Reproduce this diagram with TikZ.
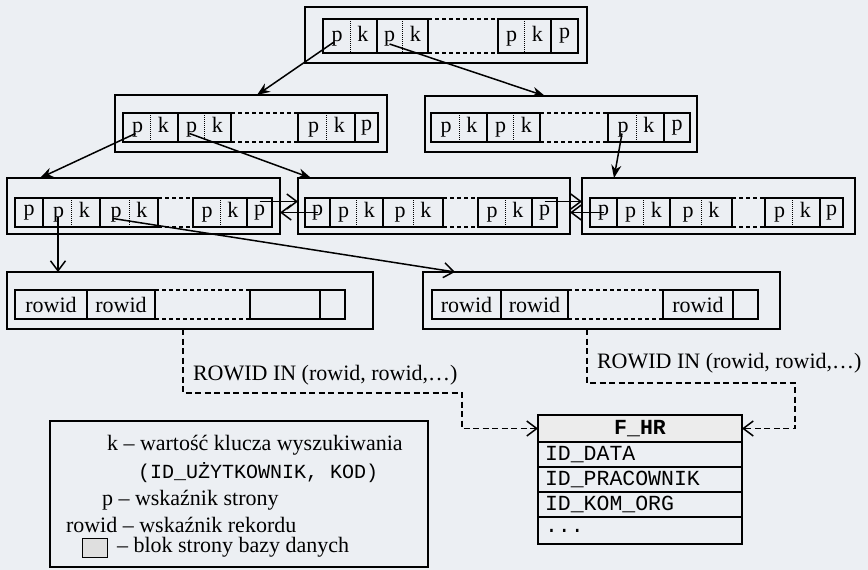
\documentclass[tikz,border=0pt]{standalone}
\usepackage{fontspec}
\setmainfont{Liberation Serif}
\setmonofont{Liberation Mono}
\usetikzlibrary{positioning,arrows.meta}
\definecolor{tlo}{RGB}{236,239,243}

\begin{document}
\begin{tikzpicture}[x=1pt,y=-1pt,>={Stealth[length=13pt,width=10pt]},
  every node/.style={font=\fontsize{22}{25}\selectfont,inner sep=0pt,outer sep=0pt},
  blok/.style={draw,line width=1.5pt},
  pole/.style={draw,line width=1.5pt,minimum height=29pt},
  pk/.style={pole,path picture={\draw[densely dotted,line width=1pt]
      (path picture bounding box.north) -- (path picture bounding box.south);}},
  haczyk/.style={-{Straight Barb[length=10pt,width=15pt]},line width=1.5pt},
  link/.style={haczyk,dash pattern=on 6pt off 3.5pt},
  luka/.style={line width=1.2pt,dash pattern=on 4pt off 3pt},
  wiersz/.style={draw,line width=1.3pt,minimum width=204pt,minimum height=25pt,
      text width=190pt,align=left,font=\fontsize{21.5}{25}\ttfamily}]
  \useasboundingbox (0,0) rectangle (868,570);
  \fill[tlo] (0,0) rectangle (868,570);

  % korzen
  \node[blok,minimum width=282pt,minimum height=56pt] (r) at (446,35) {};
  \node[pk,minimum width=54pt,minimum height=34pt] (r1) at (350,36) {p\hspace{15pt}k};
  \node[pk,minimum width=51pt,minimum height=34pt,right=0pt of r1] (r2) {p\hspace{15pt}k};
  \node[pk,minimum width=53pt,minimum height=34pt,right=70pt of r2] (r3) {p\hspace{15pt}k};
  \node[pole,minimum width=27pt,minimum height=34pt,right=0pt of r3] (r4) {p};
  \draw[luka] (r2.north east) -- (r3.north west) (r2.south east) -- (r3.south west);

  % poziom 2
  \node[blok,minimum width=272pt,minimum height=57pt] (l) at (251,123.5) {};
  \node[pk,minimum width=55pt] (l1) at (150.5,127.5) {p\hspace{15pt}k};
  \node[pk,minimum width=53pt,right=0pt of l1] (l2) {p\hspace{15pt}k};
  \node[pk,minimum width=57pt,right=67pt of l2] (l3) {p\hspace{15pt}k};
  \node[pole,minimum width=23pt,right=0pt of l3] (l4) {p};
  \draw[luka] (l2.north east) -- (l3.north west) (l2.south east) -- (l3.south west);

  \node[blok,minimum width=272pt,minimum height=56pt] (m) at (561,124) {};
  \node[pk,minimum width=56pt] (m1) at (459,127.5) {p\hspace{15pt}k};
  \node[pk,minimum width=53pt,right=0pt of m1] (m2) {p\hspace{15pt}k};
  \node[pk,minimum width=56pt,right=68pt of m2] (m3) {p\hspace{15pt}k};
  \node[pole,minimum width=26pt,right=0pt of m3] (m4) {p};
  \draw[luka] (m2.north east) -- (m3.north west) (m2.south east) -- (m3.south west);

  % poziom 3
  \node[blok,minimum width=273pt,minimum height=56pt] (a) at (143.5,206) {};
  \node[pole,minimum width=28pt] (a1) at (29,212.5) {p};
  \node[pk,minimum width=57pt,right=0pt of a1] (a2) {p\hspace{15pt}k};
  \node[pk,minimum width=58pt,right=0pt of a2] (a3) {p\hspace{15pt}k};
  \node[pk,minimum width=54pt,right=35pt of a3] (a4) {p\hspace{15pt}k};
  \node[pole,minimum width=25pt,right=0pt of a4] (a5) {p};
  \draw[luka] (a3.north east) -- (a4.north west) (a3.south east) -- (a4.south west);

  \node[blok,minimum width=272pt,minimum height=56pt] (b) at (434,206) {};
  \node[pole,minimum width=25pt] (b1) at (317.5,212.5) {p};
  \node[pk,minimum width=53pt,right=0pt of b1] (b2) {p\hspace{15pt}k};
  \node[pk,minimum width=60pt,right=0pt of b2] (b3) {p\hspace{15pt}k};
  \node[pk,minimum width=54pt,right=35pt of b3] (b4) {p\hspace{15pt}k};
  \node[pole,minimum width=25pt,right=0pt of b4] (b5) {p};
  \draw[luka] (b3.north east) -- (b4.north west) (b3.south east) -- (b4.south west);

  \node[blok,minimum width=273pt,minimum height=56pt] (c) at (718.5,206) {};
  \node[pole,minimum width=27pt] (c1) at (603.5,212.5) {p};
  \node[pk,minimum width=53pt,right=0pt of c1] (c2) {p\hspace{15pt}k};
  \node[pk,minimum width=62pt,right=0pt of c2] (c3) {p\hspace{15pt}k};
  \node[pk,minimum width=55pt,right=33pt of c3] (c4) {p\hspace{15pt}k};
  \node[pole,minimum width=23pt,right=0pt of c4] (c5) {p};
  \draw[luka] (c3.north east) -- (c4.north west) (c3.south east) -- (c4.south west);

  % liscie
  \node[blok,minimum width=366pt,minimum height=57pt] (d) at (190,300.5) {};
  \node[pole,minimum width=72pt] (d1) at (51,304.5) {rowid};
  \node[pole,minimum width=68pt,right=0pt of d1] (d2) {rowid};
  \node[pole,minimum width=70pt,right=95pt of d2] (d3) {};
  \node[pole,minimum width=25pt,right=0pt of d3] (d4) {};
  \draw[luka] (d2.north east) -- (d3.north west) (d2.south east) -- (d3.south west);

  \node[blok,minimum width=357pt,minimum height=57pt] (e) at (601.5,300.5) {};
  \node[pole,minimum width=69pt] (e1) at (466.5,304.5) {rowid};
  \node[pole,minimum width=67pt,right=0pt of e1] (e2) {rowid};
  \node[pole,minimum width=70pt,right=95pt of e2] (e3) {rowid};
  \node[pole,minimum width=25pt,right=0pt of e3] (e4) {};
  \draw[luka] (e2.north east) -- (e3.north west) (e2.south east) -- (e3.south west);

  % tabela
  \node[wiersz,minimum height=27pt,fill=gray!15,align=center,font=\fontsize{21.5}{25}\ttfamily\bfseries] (fhr) at (640,428.5) {F\_HR};
  \node[wiersz,below=0pt of fhr] (fhr1) {ID\_DATA};
  \node[wiersz,below=0pt of fhr1] (fhr2) {ID\_PRACOWNIK};
  \node[wiersz,below=0pt of fhr2] (fhr3) {ID\_KOM\_ORG};
  \node[wiersz,minimum height=27pt,below=0pt of fhr3] (fhr4) {...};

  % legenda
  \node[draw,line width=1.5pt,minimum width=378pt,minimum height=146pt] (leg) at (239,494) {};
  \node[anchor=west] (legk) at (107,445) {k – wartość klucza wyszukiwania};
  \node[anchor=west] (legkod) at (138,473) {\fontsize{20}{24}\ttfamily(ID\_UŻYTKOWNIK, KOD)};
  \node[anchor=west] (legp) at (102,500) {p – wskaźnik strony};
  \node[anchor=west] (legrowid) at (66,525) {rowid – wskaźnik rekordu};
  \node[draw,line width=1pt,fill=gray!25,minimum width=25pt,minimum height=19pt] (legblok) at (94.5,547.5) {};
  \node[anchor=west] (legstr) at (117,547) {– blok strony bazy danych};

  % wskazniki w drzewie
  \draw[->,line width=1.5pt] ([xshift=-16pt,yshift=-6pt]r1.center) -- ([xshift=6pt]l.north);
  \draw[->,line width=1.5pt] ([xshift=-13pt,yshift=-8pt]r2.center) -- ([xshift=-16pt]m.north);
  \draw[->,line width=1.5pt] ([xshift=-15pt,yshift=-6pt]l1.center) -- ([xshift=33pt]a.north west);
  \draw[->,line width=1.5pt] ([xshift=-15pt,yshift=-6pt]l2.center) -- ([xshift=13pt]b.north west);
  \draw[->,line width=1.5pt] ([xshift=-14pt,yshift=-6pt]m3.center) -- ([xshift=32pt]c.north west);
  \draw[haczyk] ([xshift=-13.5pt,yshift=-4pt]a2.center) -- ([xshift=51pt]d.north west);
  \draw[haczyk] ([xshift=-16pt,yshift=-6pt]a3.center) -- ([xshift=32pt]e.north west);
  \draw[haczyk] ([yshift=11pt]a5.center) -- ([yshift=4.5pt]b.west);
  \draw[haczyk] (b1.center) -- (b1.center -| a.east);
  \draw[haczyk] ([yshift=11pt]b5.center) -- ([yshift=4.5pt]c.west);
  \draw[haczyk] (c1.center) -- (c1.center -| b.east);

  % rowid -> tabela
  \draw[link] ([xshift=-7pt]d.south) -- ++(0,64) -| ([xshift=-76pt]fhr.west) -- (fhr.west);
  \draw[link] ([xshift=-14.5pt]e.south) -- ++(0,54) -| ([xshift=53pt]fhr.east) -- (fhr.east);
  \node[anchor=west] (in1) at (193,375) {ROWID IN (rowid, rowid,…)};
  \node[anchor=west] (in2) at (597,363) {ROWID IN (rowid, rowid,…)};
\end{tikzpicture}
\end{document}
